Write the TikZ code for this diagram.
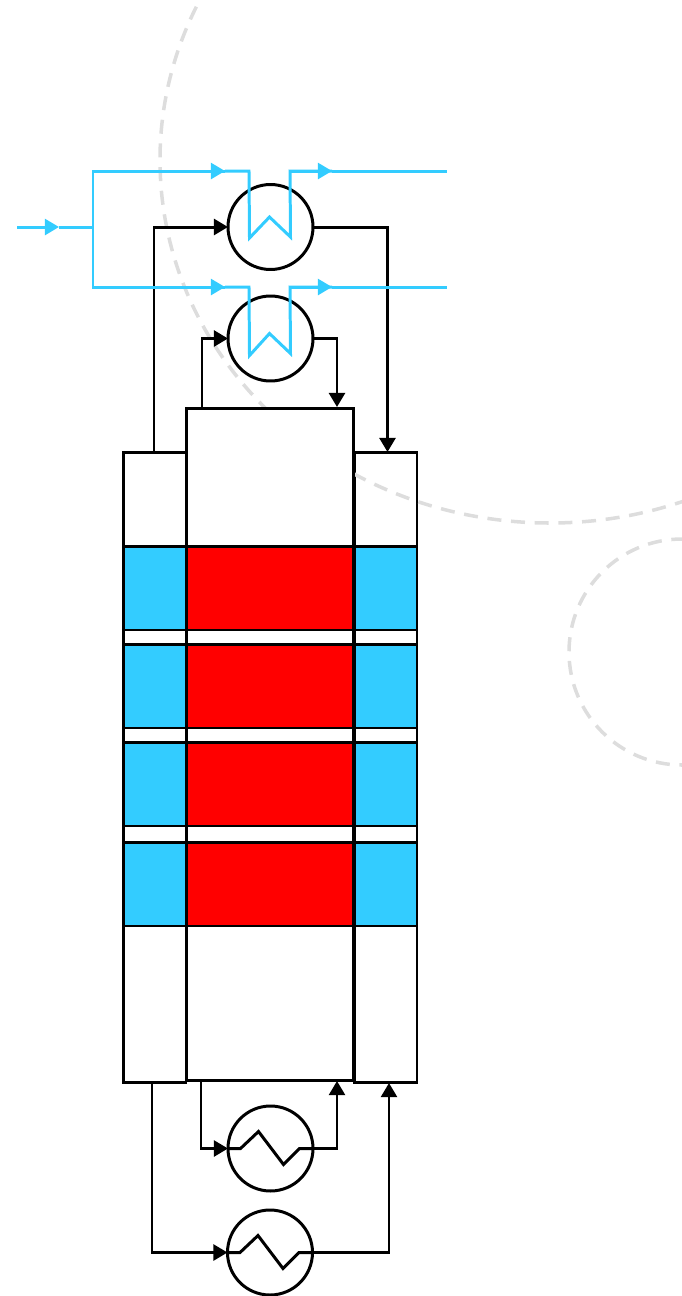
\documentclass[tikz,border=0pt]{standalone}
\usepackage{xcolor}
\usepackage{tikz}
\usetikzlibrary{arrows.meta, calc}
\definecolor{coolblue}{HTML}{33CCFF}
\definecolor{guidegrey}{HTML}{DDDDDD}

\begin{document}
\begin{tikzpicture}[x=.02cm,y=-.02cm,
		shell/.style={draw=black,fill=white,line width=1.7pt,inner sep=0pt,outer sep=0pt},
		coolblock/.style={shell,fill=coolblue,minimum width=1.26cm,minimum height=1.68cm},
		hotblock/.style={shell,fill=red,minimum width=3.36cm,minimum height=1.68cm},
		hx/.style={draw=black,line width=1.7pt,circle,inner sep=0pt,outer sep=0pt,minimum size=1.7cm},
		pipe/.style={draw=black,line width=1.7pt,line join=miter},
		flow/.style={pipe,-{Triangle[length=8pt,width=9pt]}},
		bluepipe/.style={draw=coolblue,line width=1.7pt,line join=miter},
		blueflow/.style={bluepipe,-{Triangle[length=8pt,width=9pt]}},
		guide/.style={draw=guidegrey,line width=2pt,dash pattern=on 8pt off 5.5pt}]
	\useasboundingbox (0,0) rectangle (682,1296);
	% right column goes under the dashed arc
	\node[shell,minimum width=1.26cm,minimum height=12.62cm] (rightcol) at (385.5,767.5) {};
	% dashed background arcs
	\begin{scope}
		\clip (0,0) rectangle (682,1296);
		\draw[guide] (550,160) ellipse [x radius=390,y radius=363];
		\draw[guide] (682,652) circle [radius=113];
	\end{scope}
	% column
	\node[shell,minimum width=1.26cm,minimum height=12.62cm] (leftcol) at (154.5,767.5) {};
	\node[shell,minimum width=3.36cm,minimum height=13.46cm] (midcol) at (270,744.5) {};
	\foreach \n/\y in {a/588,b/686,c/784,d/884} {
		\node[coolblock] (left\n) at (154.5,\y) {};
		\node[hotblock] (mid\n) at (270,\y) {};
		\node[coolblock] (right\n) at (385.5,\y) {};
	}
	% exchangers
	\node[hx] (hxa) at (270.5,227) {};
	\node[hx] (hxb) at (270.5,338.5) {};
	\node[hx] (hxc) at (270.5,1148.5) {};
	\node[hx] (hxd) at (270,1252.5) {};
	% free ends on the column
	\coordinate (outa) at (154,452);
	\coordinate (ina) at (387.5,452);
	\coordinate (outb) at (202,408);
	\coordinate (inb) at (337,407);
	\coordinate (outc) at (201,1081);
	\coordinate (inc) at (337,1081);
	\coordinate (outd) at (152,1083);
	\coordinate (ind) at (389,1083);
	% black loops
	\draw[flow] (outa) |- (hxa.west);
	\draw[flow] (hxa.east) -| (ina);
	\draw[flow] (outb) |- (hxb.west);
	\draw[flow] (hxb.east) -| (inb);
	\draw[flow] (outc) |- (hxc.west);
	\draw[flow] (hxc.east) -| (inc);
	\draw[flow] (outd) |- (hxd.west);
	\draw[flow] (hxd.east) -| (ind);
	\foreach \n in {hxc,hxd} {
		\draw[pipe] (\n.west) -- ([shift={(-30,0)}]\n.center) -- ([shift={(-12,-17)}]\n.center)
			-- ([shift={(13,16)}]\n.center) -- ([shift={(29,0)}]\n.center) -- (\n.east);
	}
	% blue feed
	\coordinate (feed) at (17,227);
	\coordinate (feedtip) at (59,227);
	\coordinate (split) at (93,227);
	\coordinate (upper) at (93,171);
	\coordinate (lower) at (93,287);
	\coordinate (tipa) at (225,171);
	\coordinate (tipb) at (225,287);
	\coordinate (inleta) at (249,171);
	\coordinate (inletb) at (249,287);
	\coordinate (outleta) at (290,171);
	\coordinate (outletb) at (290,287);
	\coordinate (tipc) at (332,171);
	\coordinate (tipd) at (332,287);
	\coordinate (enda) at (447,171);
	\coordinate (endb) at (447,287);
	\draw[blueflow] (feed) -- (feedtip);
	\draw[bluepipe] (feedtip) -- (split);
	\draw[bluepipe] (tipa) -- (upper) -- (lower) -- (tipb);
	\draw[blueflow] (upper) -- (tipa);
	\draw[blueflow] (lower) -- (tipb);
	\draw[bluepipe] (tipa) -- (inleta) -- ([shift={(-21,11)}]hxa.center) -- ([shift={(-1,-10)}]hxa.center)
		-- ([shift={(20,10)}]hxa.center) -- (outleta) -- (tipc);
	\draw[bluepipe] (tipb) -- (inletb) -- ([shift={(-21,17)}]hxb.center) -- ([shift={(-1,-5)}]hxb.center)
		-- ([shift={(20,15)}]hxb.center) -- (outletb) -- (tipd);
	\draw[blueflow] (outleta) -- (tipc);
	\draw[blueflow] (outletb) -- (tipd);
	\draw[bluepipe] (tipc) -- (enda);
	\draw[bluepipe] (tipd) -- (endb);
\end{tikzpicture}
\end{document}
